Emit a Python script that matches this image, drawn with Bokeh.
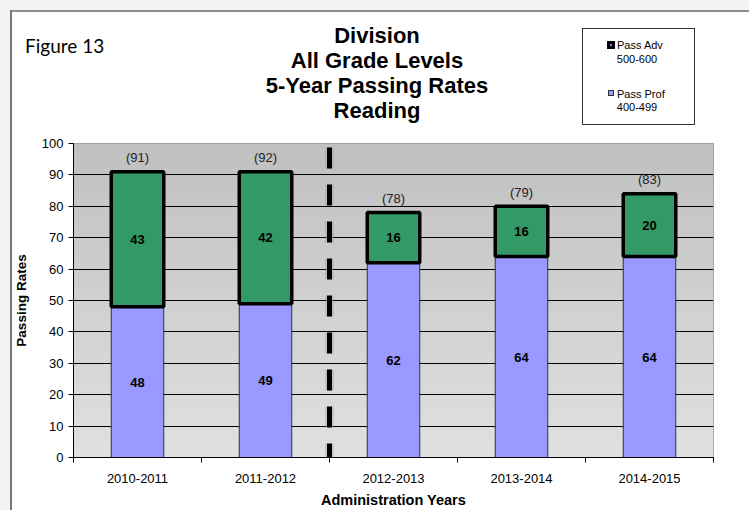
import numpy as np
from bokeh.plotting import figure
from bokeh.models import Range1d, FixedTicker, Span, Div
from bokeh.layouts import column
from bokeh.embed import file_html
from bokeh.resources import INLINE
from bokeh.core.properties import value

# ---- data ----
years = ["2010-2011", "2011-2012", "2012-2013", "2013-2014", "2014-2015"]
pass_prof = [48, 49, 62, 64, 64]
pass_adv = [43, 42, 16, 16, 20]
totals = [91, 92, 78, 79, 83]
title_lines = ["Division", "All Grade Levels", "5-Year Passing Rates", "Reading"]
y_ticks = list(range(0, 101, 10))
legend_names = ["Pass Adv", "Pass Prof"]
legend_ranges = ["500-600", "400-499"]
figure_label = "Figure 13"

FONT = "Liberation Sans"
W, H = 749, 510
HEAD = 133          # header height
FL, FR, FT, FB = 73, 713, 143, 458  # frame edges in page px

xs = list(range(1, len(years) + 1))
adv_top = [p + a for p, a in zip(pass_prof, pass_adv)]
prof_mid = [p / 2 for p in pass_prof]
adv_mid = [p + a / 2 for p, a in zip(pass_prof, pass_adv)]

PH = H - HEAD
p = figure(width=W, height=PH, x_range=Range1d(0.5, 5.5), y_range=Range1d(0, 100),
           output_backend="svg", toolbar_location=None,
           min_border_left=FL, min_border_right=W - FR,
           min_border_top=FT - HEAD, min_border_bottom=H - FB,
           background_fill_color="#d4d4d4", border_fill_alpha=0,
           outline_line_color="#9a9a9a", margin=0)
p.styles = {"background": "linear-gradient(to right, #f3f3f3 0px, #f3f3f3 10px, "
                          "#777777 10px, #777777 12px, #ffffff 12px)"}

# gradient background of the plot area
n = FB - FT
img = np.empty((n, 1), dtype=np.uint32)
view = img.view(dtype=np.uint8).reshape((n, 1, 4))
for i in range(n):
    t = i / (n - 1)
    c = int(round(0xe0 + (0xc0 - 0xe0) * t))
    view[i, 0, :] = [c, c, c, 255]
bg = p.image_rgba(image=[img], x=0.5, y=0, dw=5, dh=100)
bg.level = "image"

# grid / axes
p.xgrid.visible = False
p.ygrid.ticker = FixedTicker(ticks=y_ticks)
p.ygrid.grid_line_color = "black"
p.ygrid.grid_line_width = 1

p.yaxis.ticker = FixedTicker(ticks=y_ticks)
p.yaxis.major_tick_out = 5
p.yaxis.major_tick_in = 0
p.yaxis.minor_tick_line_color = None
p.yaxis.axis_line_color = "black"
p.yaxis.major_label_text_font = FONT
p.yaxis.major_label_text_font_size = "13px"
p.yaxis.major_label_text_color = "black"
p.yaxis.major_label_standoff = 5
p.yaxis.axis_label = "Passing Rates"
p.yaxis.axis_label_text_font = FONT
p.yaxis.axis_label_text_font_size = "13.5px"
p.yaxis.axis_label_text_font_style = "bold"
p.yaxis.axis_label_text_color = "black"
p.yaxis.axis_label_standoff = 10

p.xaxis.ticker = FixedTicker(ticks=xs, minor_ticks=[i + 0.5 for i in range(0, 6)])
p.xaxis.major_label_overrides = {i: y for i, y in zip(xs, years)}
p.xaxis.major_tick_out = 0
p.xaxis.major_tick_in = 0
p.xaxis.minor_tick_out = 5
p.xaxis.minor_tick_in = 0
p.xaxis.minor_tick_line_color = "black"
p.xaxis.axis_line_color = "black"
p.xaxis.major_label_text_font = FONT
p.xaxis.major_label_text_font_size = "13px"
p.xaxis.major_label_text_color = "black"
p.xaxis.major_label_standoff = 11
p.xaxis.axis_label = "Administration Years"
p.xaxis.axis_label_text_font = FONT
p.xaxis.axis_label_text_font_size = "14.5px"
p.xaxis.axis_label_text_font_style = "bold"
p.xaxis.axis_label_text_color = "black"
p.xaxis.axis_label_standoff = 6

# bars
p.vbar(x=xs, bottom=0, top=pass_prof, width=0.41, fill_color="#9999ff",
       line_color="#333333", line_width=1)
p.vbar(x=xs, bottom=pass_prof, top=adv_top, width=0.41, fill_color="#339966",
       line_color="black", line_width=3.5)

# value labels
p.text(x=xs, y=prof_mid, text=[str(v) for v in pass_prof], text_font=value(FONT),
       text_font_size="13px", text_font_style="bold", text_align="center",
       text_baseline="middle", text_color="black")
p.text(x=xs, y=adv_mid, text=[str(v) for v in pass_adv], text_font=value(FONT),
       text_font_size="13px", text_font_style="bold", text_align="center",
       text_baseline="middle", text_color="black")
p.text(x=xs, y=adv_top, text=[f"({t})" for t in totals], text_font=value(FONT),
       text_font_size="13px", text_align="center", text_baseline="middle",
       y_offset=-14, text_color="#222222")

# dashed divider between 2011-2012 and 2012-2013
p.add_layout(Span(location=2.5, dimension="height", line_color="#9a9a9a",
                  line_alpha=0.35, line_width=9, line_dash="21 16",
                  line_dash_offset=33))
p.add_layout(Span(location=2.5, dimension="height", line_color="black",
                  line_width=5, line_dash="21 16", line_dash_offset=33))

# ---- header (titles, figure label, legend) as HTML ----
def box(left, top, w, h, style=""):
    return (f'<div style="position:absolute;left:{left}px;top:{top}px;'
            f'width:{w}px;height:{h}px;{style}"></div>')

def txt(left, top, w, s, size, bold=False, align="center", lh=None, font=FONT, color="black"):
    lh = lh or size + 3
    fw = "bold" if bold else "normal"
    return (f'<div style="position:absolute;left:{left}px;top:{top}px;width:{w}px;'
            f'text-align:{align};font-family:\'{font}\';font-size:{size}px;'
            f'font-weight:{fw};line-height:{lh}px;color:{color};white-space:nowrap;">{s}</div>')

parts = []
parts.append(box(0, 0, W, 10, "background:#f3f3f3;"))
parts.append(box(0, 0, 10, HEAD, "background:#f3f3f3;"))
parts.append(box(10, 10, W - 10, 2, "background:#8c8c8c;"))
parts.append(box(10, 10, 2, HEAD - 10, "background:#777777;"))
for i, t in enumerate(title_lines):
    cy = 36 + 25 * i
    parts.append(txt(377 - 200, cy - 13, 400, t, 22, bold=True, lh=26))
parts.append(txt(25, 46 - 12, 150, figure_label, 19, align="left", lh=24, font="Lato"))
# legend
parts.append(box(582, 28, 113, 97, "border:1px solid #333333;background:white;"))
parts.append(box(607, 41, 8, 8, "background:black;"))
parts.append(box(610, 44, 2, 2, "background:#b070e0;"))
parts.append(box(608, 90, 6, 6, "background:#9999ff;border:1px solid #333333;"))
for name, rng, yn, yr in zip(legend_names, legend_ranges, [45, 94], [59, 107]):
    parts.append(txt(617, yn - 7, 80, name, 11, align="left", lh=14))
    parts.append(txt(637 - 40, yr - 7, 80, rng, 11, align="center", lh=14))

header_html = ('<div style="position:relative;width:%dpx;height:%dpx;background:white;'
               'overflow:hidden;">%s</div>' % (W, HEAD, "".join(parts)))
header = Div(text=header_html, width=W, height=HEAD, margin=0)

layout = column(header, p, spacing=0, margin=0)

open("out.html", "w").write(file_html(layout, INLINE))
